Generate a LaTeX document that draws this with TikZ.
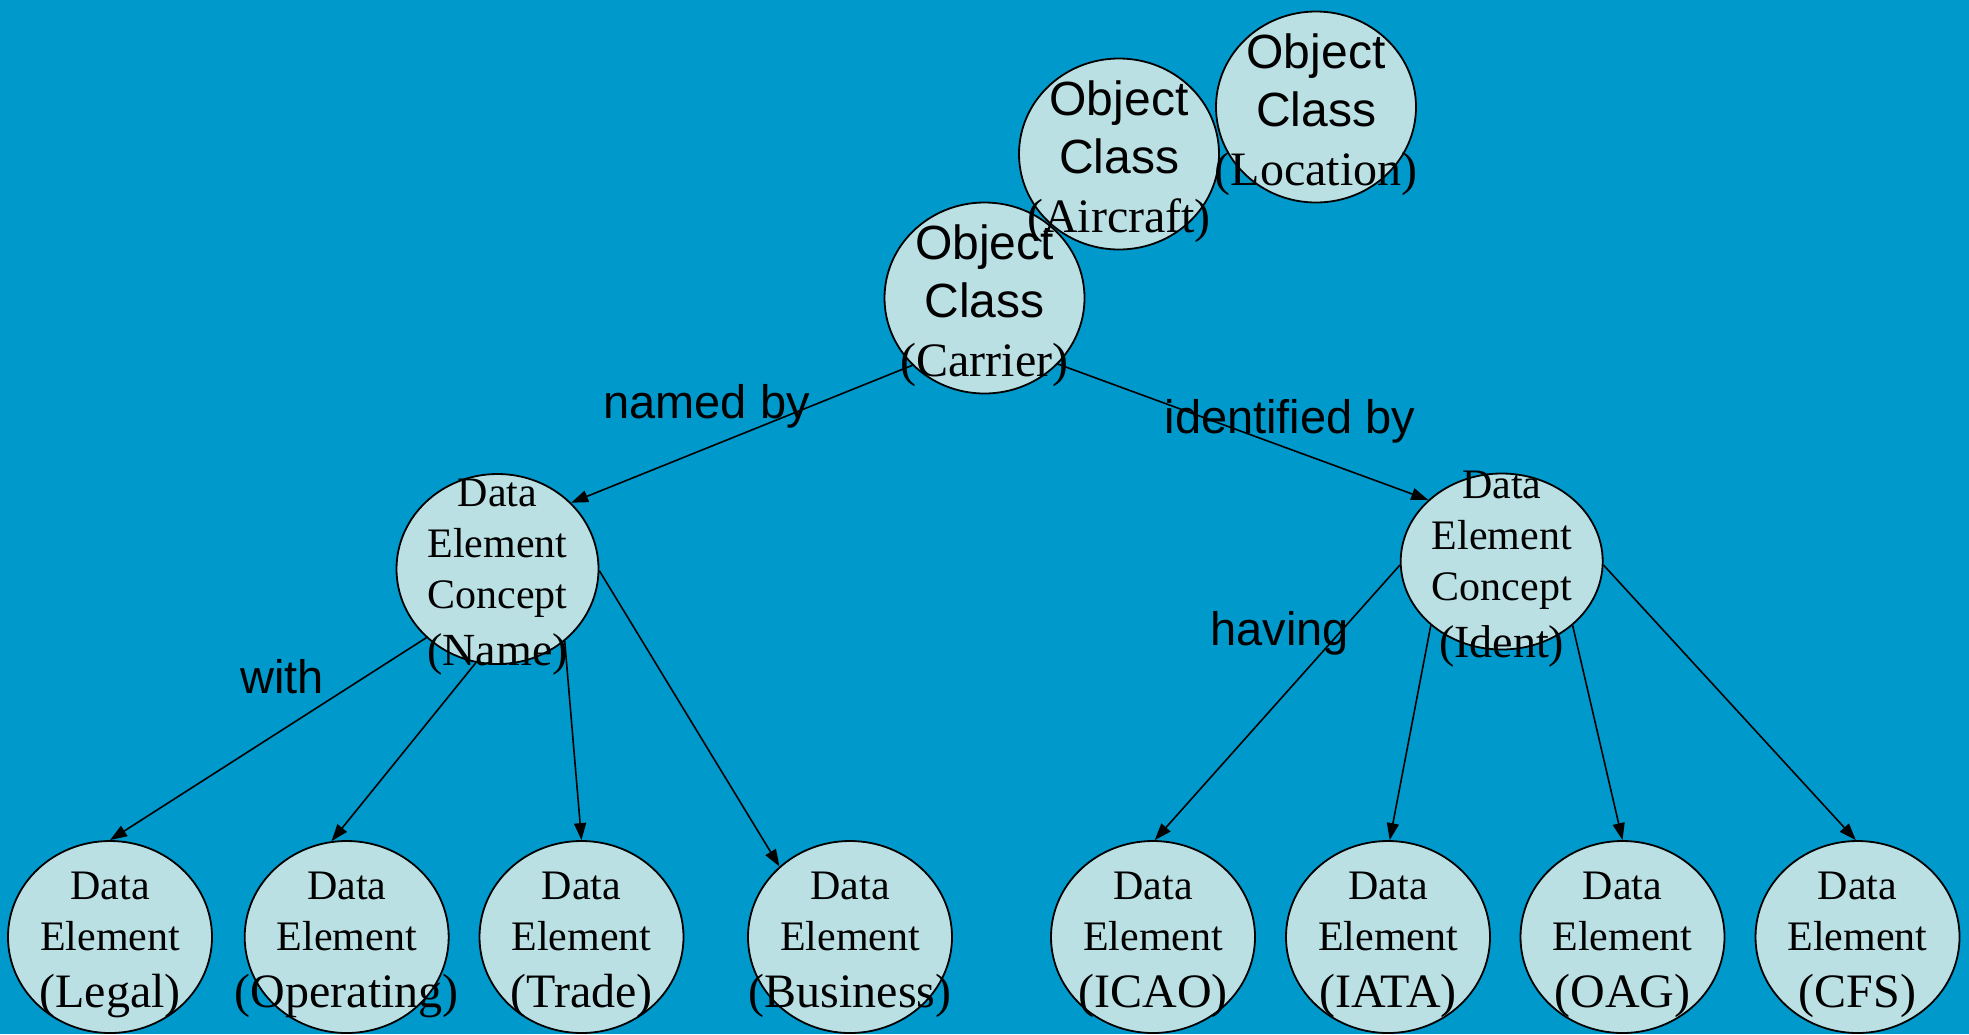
\documentclass[tikz,border=0pt]{standalone}
\usepackage{fontspec}
\setmainfont{Liberation Serif}
\setsansfont{Liberation Sans}
\usepackage{xcolor}
\usepackage{tikz}
\usetikzlibrary{shapes.geometric, arrows.meta}

\definecolor{bgblue}{RGB}{0,153,204}
\definecolor{bubble}{RGB}{186,224,228}

\begin{document}
\begin{tikzpicture}[x=0.5pt, y=-0.5pt, >={Triangle[length=8.5pt, width=6pt]},
    bub/.style={ellipse, draw=black, line width=0.9pt, fill=bubble, inner sep=0pt},
    objcls/.style={bub, minimum width=100pt, minimum height=95.5pt},
    concept/.style={bub, minimum width=101pt, minimum height=95pt},
    elem/.style={bub, minimum width=102pt, minimum height=96pt},
    txt/.style={align=center, inner sep=0pt, yshift=-4pt},
    octxt/.style={txt, font=\sffamily\fontsize{24}{29}\selectfont},
    dectxt/.style={txt, font=\rmfamily\fontsize{21}{25.5}\selectfont},
    rel/.style={font=\sffamily\fontsize{23.5}{27}\selectfont, anchor=base, inner sep=0pt},
    conn/.style={->, line width=0.8pt}]
    % Nền xanh và khung hình
    \fill[bgblue] (0,0) rectangle (1969,1034);
    \useasboundingbox (0,0) rectangle (1969,1034);

    % Các lớp đối tượng ở trên cùng
    \node[objcls] (carrier) at (984.5,298) {};
    \node[octxt] (carriertxt) at (carrier) {Object\\Class\\[0.5pt]{\rmfamily\fontsize{24}{29}\selectfont(Carrier)}};
    \node[objcls] (aircraft) at (1119,154) {};
    \node[octxt] (aircrafttxt) at (aircraft) {Object\\Class\\[0.5pt]{\rmfamily\fontsize{24}{29}\selectfont(Aircraft)}};
    \node[objcls] (location) at (1316,107) {};
    \node[octxt] (locationtxt) at (location) {Object\\Class\\[0.5pt]{\rmfamily\fontsize{24}{29}\selectfont(Location)}};

    % Hai khái niệm phần tử dữ liệu
    \node[concept] (name) at (497.5,569) {};
    \node[dectxt] (nametxt) at (name) {Data\\Element\\Concept\\[3pt]{\fontsize{23}{28}\selectfont(Name)}};
    \node[concept, minimum height=88pt] (ident) at (1501.7,561.5) {};
    \node[dectxt] (identtxt) at (ident) {Data\\Element\\Concept\\[3pt]{\fontsize{23}{28}\selectfont(Ident)}};

    % Hàng phần tử dữ liệu ở dưới
    \node[elem] (legal) at (110,937) {};
    \node[dectxt] (legaltxt) at (legal) {Data\\Element\\[3pt]{\fontsize{24}{28}\selectfont(Legal)}};
    \node[elem] (operating) at (346.7,937) {};
    \node[dectxt] (operatingtxt) at (operating) {Data\\Element\\[3pt]{\fontsize{24}{28}\selectfont(Operating)}};
    \node[elem] (trade) at (581.5,937) {};
    \node[dectxt] (tradetxt) at (trade) {Data\\Element\\[3pt]{\fontsize{24}{28}\selectfont(Trade)}};
    \node[elem] (business) at (850,937) {};
    \node[dectxt] (businesstxt) at (business) {Data\\Element\\[3pt]{\fontsize{24}{28}\selectfont(Business)}};
    \node[elem] (icao) at (1153,937) {};
    \node[dectxt] (icaotxt) at (icao) {Data\\Element\\[3pt]{\fontsize{24}{28}\selectfont(ICAO)}};
    \node[elem] (iata) at (1388,937) {};
    \node[dectxt] (iatatxt) at (iata) {Data\\Element\\[3pt]{\fontsize{24}{28}\selectfont(IATA)}};
    \node[elem] (oag) at (1622.5,937) {};
    \node[dectxt] (oagtxt) at (oag) {Data\\Element\\[3pt]{\fontsize{24}{28}\selectfont(OAG)}};
    \node[elem] (cfs) at (1857.5,937) {};
    \node[dectxt] (cfstxt) at (cfs) {Data\\Element\\[3pt]{\fontsize{24}{28}\selectfont(CFS)}};

    % Các mũi tên nối
    \draw[conn] (carrier.223) -- (name.42);
    \draw[conn] (carrier.318) -- (ident.140);
    \draw[conn] (name.224) -- (legal.90);
    \draw[conn] (name.257) -- (operating.99);
    \draw[conn] (name.313) -- (trade.90);
    \draw[conn] (name.359) -- (business.135);
    \draw[conn] (ident.182) -- (icao.89);
    \draw[conn] (ident.222) -- (iata.89);
    \draw[conn] (ident.318) -- (oag.90);
    \draw[conn] (ident.358) -- (cfs.91);

    % Nhãn quan hệ
    \node[rel] (namedby) at (706.5,418) {named by};
    \node[rel] (identby) at (1290,433) {identified by};
    \node[rel] (with) at (282,693) {with};
    \node[rel] (having) at (1279.5,645) {having};
\end{tikzpicture}
\end{document}
